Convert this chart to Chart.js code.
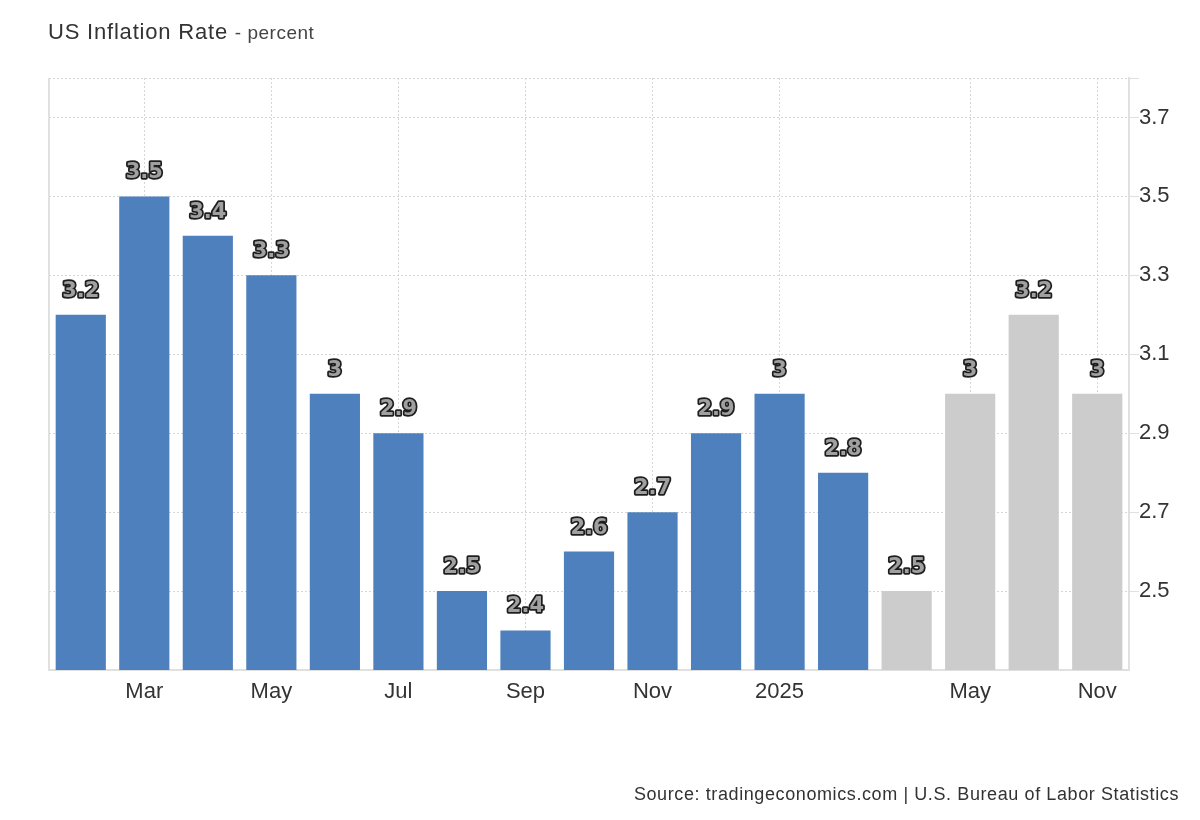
<!DOCTYPE html>
<html>
<head>
<meta charset="utf-8">
<script src="https://cdn.jsdelivr.net/npm/chart.js@4"></script>
<style>
  body { margin: 0; background: #fff; font-family: "Liberation Sans", Arial, sans-serif; }
  #wrap { position: relative; width: 1200px; height: 820px; }
  #title { position: absolute; left: 48px; top: 19px; font-size: 22px; letter-spacing: 0.8px; color: #333; }
  #title small { font-size: 19px; letter-spacing: 0.5px; color: #444; }
  #source { position: absolute; right: 21px; top: 784px; font-size: 18px; letter-spacing: 0.6px; color: #333; }
</style>
</head>
<body>
<div id="wrap">
  <canvas id="chart" width="1200" height="820"></canvas>
  <div id="title">US Inflation Rate <small>- percent</small></div>
  <div id="source">Source: tradingeconomics.com | U.S. Bureau of Labor Statistics</div>
</div>
<script>
const months = ['Feb','Mar','Apr','May','Jun','Jul','Aug','Sep','Oct','Nov','Dec','Jan','Feb','Q1','Q2','Q3','Q4']
const tickLabels = ['','Mar','','May','','Jul','','Sep','','Nov','','2025','','','May','','Nov']
const actual = [3.2, 3.5, 3.4, 3.3, 3.0, 2.9, 2.5, 2.4, 2.6, 2.7, 2.9, 3.0, 2.8]
const forecast = [2.5, 3.0, 3.2, 3.0]
const yTicks = [2.5, 2.7, 2.9, 3.1, 3.3, 3.5, 3.7, 3.8]

const values = actual.concat(forecast)
const barColors = values.map((v, i) => i < actual.length ? '#4e80bd' : '#cccccc')
const axisFont = { family: '"Liberation Sans", Arial, sans-serif', size: 22 }

// outlined value labels above each bar
const valueLabels = {
  id: 'valueLabels',
  afterDatasetsDraw(chart) {
    const ctx = chart.ctx
    const meta = chart.getDatasetMeta(0)
    ctx.save()
    ctx.font = 'bold 21px "DejaVu Sans", sans-serif'
    ctx.textAlign = 'center'
    ctx.textBaseline = 'bottom'
    ctx.lineJoin = 'round'
    meta.data.forEach((bar, i) => {
      const txt = String(values[i])
      ctx.lineWidth = 3.5
      ctx.strokeStyle = '#1e1e1e'
      ctx.strokeText(txt, bar.x, bar.y - 13)
      ctx.fillStyle = '#a0a0a0'
      ctx.fillText(txt, bar.x, bar.y - 13)
    })
    ctx.restore()
  }
}

// solid left border of the plot
const leftBorder = {
  id: 'leftBorder',
  beforeDatasetsDraw(chart) {
    const a = chart.chartArea
    const ctx = chart.ctx
    ctx.save()
    ctx.strokeStyle = '#e0e0e0'
    ctx.lineWidth = 2
    ctx.beginPath()
    ctx.moveTo(a.left, a.top)
    ctx.lineTo(a.left, a.bottom)
    ctx.stroke()
    ctx.restore()
  }
}

new Chart(document.getElementById('chart'), {
  type: 'bar',
  data: {
    labels: months,
    datasets: [{
      data: values,
      backgroundColor: barColors,
      borderWidth: 0,
      categoryPercentage: 1,
      barPercentage: 0.79
    }]
  },
  options: {
    responsive: false,
    animation: false,
    layout: { padding: { left: 49, top: 78, right: 0, bottom: 0 } },
    plugins: { legend: { display: false }, tooltip: { enabled: false } },
    scales: {
      x: {
        afterFit(scale) { scale.height = 150 },
        grid: {
          offset: false,
          drawTicks: false,
          color: ctx => tickLabels[ctx.index] ? '#d6d6d6' : 'rgba(0,0,0,0)',
          lineWidth: 1
        },
        border: { color: '#e0e0e0', width: 2, dash: [2, 2] },
        ticks: {
          autoSkip: false,
          maxRotation: 0,
          padding: 9,
          color: '#333',
          font: axisFont,
          callback: (v, i) => tickLabels[i]
        }
      },
      y: {
        position: 'right',
        min: 2.3,
        max: 3.8,
        afterFit(scale) { scale.width = 71 },
        afterBuildTicks(scale) { scale.ticks = yTicks.map(v => ({ value: v })) },
        grid: {
          color: '#d6d6d6',
          tickColor: '#e0e0e0',
          tickLength: 10,
          tickBorderDash: [],
          lineWidth: 1
        },
        border: { color: '#e0e0e0', width: 2, dash: [2, 2] },
        ticks: {
          padding: 0,
          color: '#333',
          font: axisFont,
          callback: v => v === 3.8 ? '' : v.toFixed(1)
        }
      }
    }
  },
  plugins: [leftBorder, valueLabels]
})
</script>
</body>
</html>
